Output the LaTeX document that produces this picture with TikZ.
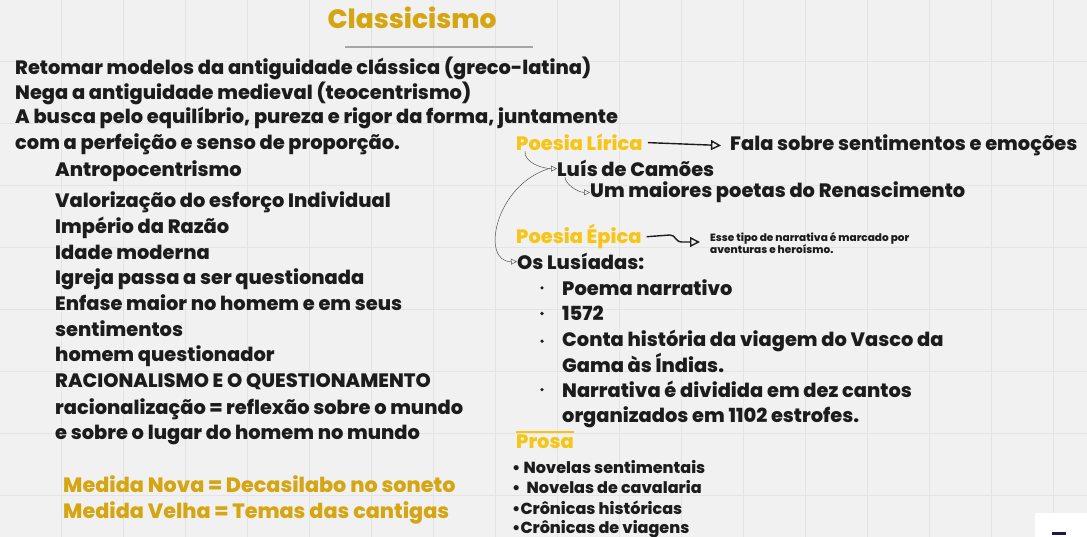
\documentclass[tikz,border=0pt]{standalone}
\usepackage{fontspec}
\IfFontExistsTF{Poppins ExtraBold}{\setmainfont{Poppins}[BoldFont={Poppins ExtraBold}]}{\setmainfont{Poppins}[BoldFeatures={FakeBold=1.2}]}
\usetikzlibrary{arrows.meta}
\definecolor{bg}{HTML}{F1F1F1}
\definecolor{gridc}{HTML}{E4E4E4}
\definecolor{ink}{HTML}{1C1C1C}
\definecolor{gold}{HTML}{D6A512}
\definecolor{yel}{HTML}{F7C516}
\definecolor{navyc}{HTML}{1A1A4A}
\begin{document}
\begin{tikzpicture}[x=1pt,y=-1pt,
  txt/.style={anchor=mid west, inner sep=0, yshift=-4pt, font=\bfseries\fontsize{19.4}{22}\selectfont, text=ink},
  small/.style={anchor=mid west, inner sep=0, yshift=-3pt, font=\bfseries\fontsize{16}{19}\selectfont, text=ink},
  tiny/.style={anchor=west, inner sep=0, align=left, font=\bfseries\fontsize{10.5}{12}\selectfont, text=ink},
  goldtxt/.style={txt, text=gold, font=\bfseries\fontsize{20.7}{24}\selectfont},
  yeltxt/.style={txt, text=yel},
  conn/.style={draw=ink, line width=1.4pt, -{Triangle[open, length=10pt, width=10pt]}},
  thin/.style={draw=ink!75, line width=0.5pt, -{Triangle[open, length=6pt, width=6pt]}}]
\useasboundingbox (0,0) rectangle (1087,537);
\fill[bg] (0,0) rectangle (1087,537);
\foreach \k in {0,...,17} \draw[gridc, line width=0.6pt] (62*\k-1,0) -- (62*\k-1,537);
\foreach \k in {1,...,8} \draw[gridc, line width=0.6pt] (0,62*\k-1) -- (1087,62*\k-1);

% title
\node[anchor=mid, inner sep=0, yshift=-6pt, font=\bfseries\fontsize{26.5}{30}\selectfont, text=gold] (title) at (412,20) {Classicismo};
\draw[gray!70, line width=1.2pt] (345,47) -- (533,47);

% left block
\node[txt] (l1) at (15,68) {Retomar modelos da antiguidade clássica (greco-latina)};
\node[txt] (l2) at (15,93) {Nega a antiguidade medieval (teocentrismo)};
\node[txt] (l3) at (15,117) {A busca pelo equilíbrio, pureza e rigor da forma, juntamente};
\node[txt] (l4) at (15,143) {com a perfeição e senso de proporção.};

\node[txt] (a1) at (55,170) {Antropocentrismo};
\node[txt] (a2) at (55,201) {Valorização do esforço Individual};
\node[txt] (a3) at (55,227) {Império da Razão};
\node[txt] (a4) at (55,253) {Idade moderna};
\node[txt] (a5) at (55,278) {Igreja passa a ser questionada};
\node[txt] (a6) at (55,304) {Enfase maior no homem e em seus};
\node[txt] (a7) at (55,330) {sentimentos};
\node[txt] (a8) at (55,355) {homem questionador};
\node[txt] (a9) at (55,381) {RACIONALISMO E O QUESTIONAMENTO};
\node[txt] (a10) at (55,408) {racionalização = reflexão sobre o mundo};
\node[txt] (a11) at (55,433) {e sobre o lugar do homem no mundo};

\node[goldtxt] (m1) at (63,486) {Medida Nova = Decasilabo no soneto};
\node[goldtxt] (m2) at (63,512) {Medida Velha = Temas das cantigas};

% right block
\node[yeltxt] (lirica) at (516,144) {Poesia Lírica};
\node[txt] (fala) at (730,144) {Fala sobre sentimentos e emoções};
\draw[conn] ([xshift=5pt]lirica.east) -- ([xshift=-9pt]fala.west);
\node[txt] (luis) at (557,170) {Luís de Camões};
\node[txt] (um) at (590,191) {Um maiores poetas do Renascimento};

\node[yeltxt] (epica) at (516,237) {Poesia Épica};
\node[tiny] (esse) at (710,243) {Esse tipo de narrativa é marcado por\\aventuras e heroísmo.};
\node[txt] (lus) at (517,263) {Os Lusíadas:};

\foreach \y/\t [count=\i] in {289/Poema narrativo,314/1572,340/Conta história da viagem do Vasco da,391/Narrativa é dividida em dez cantos}
  \node[txt] (b\i) at (562,\y) {\t};
\node[txt] (b3b) at (562,366) {Gama às Índias.};
\node[txt] (b4b) at (562,416) {organizados em 1102 estrofes.};
\foreach \i in {1,...,4} \fill[ink] ([xshift=-20pt]b\i.west) circle (1.8pt);

\node[yeltxt] (prosa) at (516,442) {Prosa};
\draw[yel, line width=1.3pt] ([yshift=10pt]prosa.west) -- ([yshift=10pt]prosa.east);
\node[small] (p1) at (512,468) {• Novelas sentimentais};
\node[small] (p2) at (512,488) {•\ \ Novelas de cavalaria};
\node[small] (p3) at (512,509) {•Crônicas históricas};
\node[small] (p4) at (512,528) {•Crônicas de viagens};

% connectors
\draw[thin] ([xshift=9pt]lirica.south west) .. controls ++(-1,12) and ++(-14,0) .. (luis.west);
\draw[thin] ([xshift=8pt]luis.south west) .. controls ++(0,7) and ++(-12,0) .. (um.west);
\draw[thin] ([xshift=-8pt]luis.west) .. controls (495,185) and (480,262) .. (lus.west);
\draw[conn] ([xshift=5pt]epica.east) -- (670,235) .. controls (676,235) and (675,242) .. (682,242) -- ([xshift=-10pt]esse.west |- 0,242);

% bottom right widget
\fill[white] (1035,513) rectangle (1087,537);
\fill[navyc] (1052,532) rectangle (1066,535);
\end{tikzpicture}
\end{document}
